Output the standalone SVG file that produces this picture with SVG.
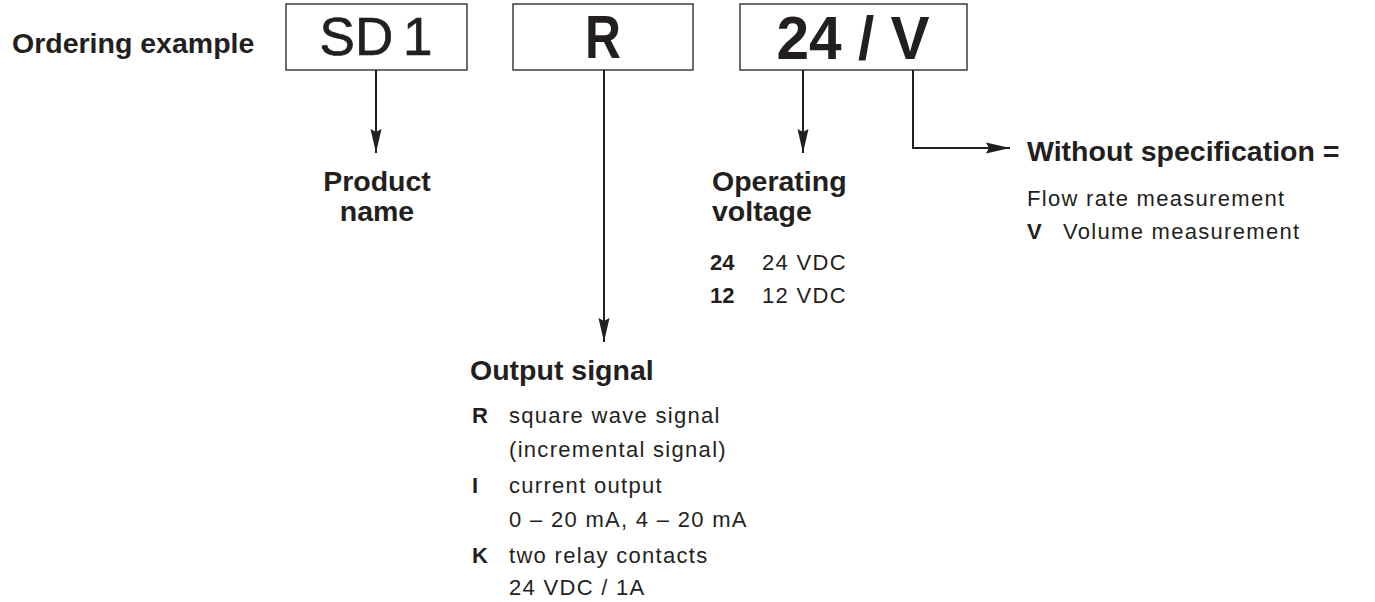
<svg xmlns="http://www.w3.org/2000/svg" width="1375" height="602" viewBox="0 0 1375 602">
  <style>
    text { font-family: "Liberation Sans", Arial, sans-serif; fill: #231f20; }
    .h { font-size: 28.5px; font-weight: bold; }
    .t { font-size: 22px; letter-spacing: 1.3px; }
    .b { font-size: 22px; font-weight: bold; }
    .box { fill: #ffffff; stroke: #231f20; stroke-width: 1.3; }
    .code { font-size: 62px; font-weight: bold; }
    .conn { fill: none; stroke: #231f20; stroke-width: 2; }
  </style>
  <defs>
    <marker id="arr" viewBox="0 0 24 12" refX="24" refY="6" markerWidth="24" markerHeight="12" markerUnits="userSpaceOnUse" orient="auto">
      <path d="M0,0.5 L24,6 L0,11.5 L3,6 Z" fill="#231f20"/>
    </marker>
  </defs>
  <rect width="1375" height="602" fill="#ffffff"/>

  <g id="title">
    <text class="h" x="12" y="53">Ordering example</text>
  </g>

  <g id="box-sd1">
    <rect class="box" x="286" y="4" width="181" height="66"/>
    <text x="376" y="55" text-anchor="middle" font-size="53" stroke="#231f20" stroke-width="0.7" word-spacing="-5">SD 1</text>
  </g>

  <g id="box-r">
    <rect class="box" x="513" y="4" width="180" height="66"/>
    <text class="code" x="603" y="58" text-anchor="middle" textLength="36" lengthAdjust="spacingAndGlyphs">R</text>
  </g>

  <g id="box-24v">
    <rect class="box" x="740" y="4" width="227" height="66"/>
    <text class="code" x="853" y="59" text-anchor="middle" textLength="153" lengthAdjust="spacingAndGlyphs">24 / V</text>
  </g>

  <g id="connectors">
    <line class="conn" x1="376" y1="70" x2="376" y2="153" marker-end="url(#arr)"/>
    <line class="conn" x1="604" y1="70" x2="604" y2="342" marker-end="url(#arr)"/>
    <line class="conn" x1="803" y1="70" x2="803" y2="153" marker-end="url(#arr)"/>
    <path class="conn" d="M913,70 V148 H1010" marker-end="url(#arr)"/>
  </g>

  <g id="product-name">
    <text class="h" x="377" y="191" text-anchor="middle">Product</text>
    <text class="h" x="377" y="221" text-anchor="middle">name</text>
  </g>

  <g id="operating-voltage">
    <text class="h" x="712" y="191">Operating</text>
    <text class="h" x="712" y="221">voltage</text>
    <text class="b" x="710" y="270">24</text>
    <text class="t" x="762" y="270">24 VDC</text>
    <text class="b" x="710" y="303">12</text>
    <text class="t" x="762" y="303">12 VDC</text>
  </g>

  <g id="output-signal">
    <text class="h" x="470" y="380">Output signal</text>
    <text class="b" x="472" y="423">R</text>
    <text class="t" x="509" y="423">square wave signal</text>
    <text class="t" x="509" y="457">(incremental signal)</text>
    <text class="b" x="472" y="493">I</text>
    <text class="t" x="509" y="493">current output</text>
    <text class="t" x="509" y="527">0 – 20 mA, 4 – 20 mA</text>
    <text class="b" x="472" y="563">K</text>
    <text class="t" x="509" y="563">two relay contacts</text>
    <text class="t" x="509" y="595">24 VDC / 1A</text>
  </g>

  <g id="without-specification">
    <text class="h" x="1027" y="161">Without specification =</text>
    <text class="t" x="1027" y="206">Flow rate measurement</text>
    <text class="b" x="1027" y="239">V</text>
    <text class="t" x="1063" y="239">Volume measurement</text>
  </g>
</svg>
